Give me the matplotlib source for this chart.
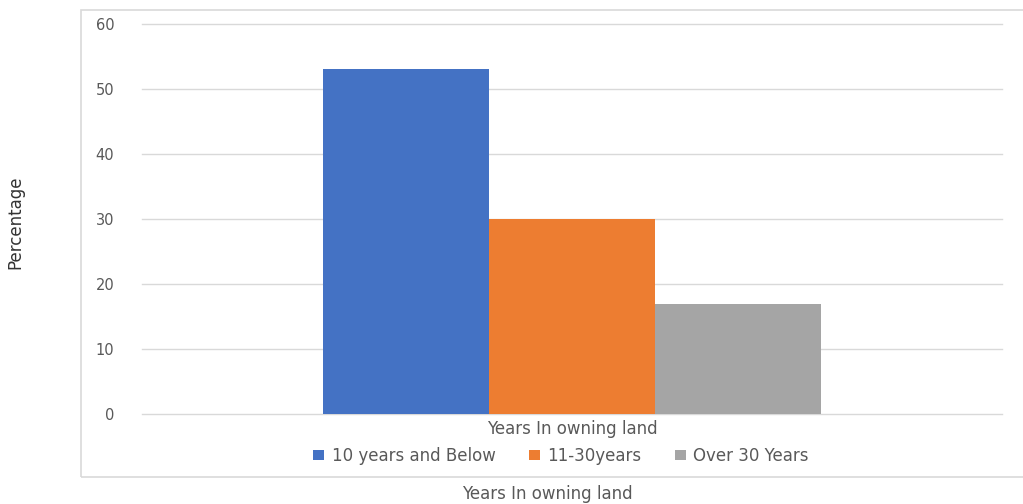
import matplotlib
matplotlib.use("Agg")
import matplotlib.pyplot as plt
from matplotlib.patches import Rectangle

# Share of respondents by length of land ownership
categories = ["10 years and Below", "11-30years", "Over 30 Years"]
percentages = [53, 30, 17]
colors = ["#4472C4", "#ED7D31", "#A5A5A5"]
y_ticks = [0, 10, 20, 30, 40, 50, 60]
group_label = "Years In owning land"

plt.rcParams["font.family"] = ["DejaVu Sans"]

W, H = 1023, 504
fig = plt.figure(figsize=(W / 100, H / 100), dpi=100)
fig.patch.set_facecolor("white")

# chart-area frame
fig.add_artist(Rectangle((81 / W, 1 - 477 / H), (1030 - 81) / W, (477 - 10) / H,
                         transform=fig.transFigure, fill=False,
                         edgecolor="#d9d9d9", lw=1.2))

ax = fig.add_axes([142 / W, 1 - 414 / H, 860 / W, 390 / H])
bar_w = 166 / 860
offsets = [-bar_w, 0, bar_w]
for off, val, col, lab in zip(offsets, percentages, colors, categories):
    ax.bar(off, val, width=bar_w, color=col, label=lab, zorder=3)

ax.set_xlim(-0.5, 0.5)
ax.set_ylim(0, 60)
ax.set_yticks(y_ticks)
ax.set_xticks([])
for t in y_ticks:
    ax.axhline(t, color="#d9d9d9", lw=1, zorder=0, clip_on=False)
for s in ax.spines.values():
    s.set_visible(False)
ax.tick_params(axis="y", length=0, pad=20, labelsize=10.5, labelcolor="#595959")

ax.set_ylabel("Percentage",
              family=["Liberation Sans Narrow", "DejaVu Sans Condensed", "DejaVu Sans"],
              fontsize=12, color="#333333")
ax.yaxis.set_label_coords((24 - 142) / 860, (414 - 222) / 390)

fig.text(572 / W, 1 - 429 / H, group_label, ha="center", va="center",
         fontsize=12, color="#595959")
fig.text(547 / W, 1 - 494 / H, group_label, ha="center", va="center",
         fontsize=12, color="#595959")

fig.legend(loc="center", bbox_to_anchor=(561 / W, 1 - 456 / H), ncol=3,
           frameon=False, fontsize=12, handlelength=0.65, handleheight=0.6,
           handletextpad=0.45, columnspacing=2.0, labelcolor="#595959")

fig.savefig("out.png", dpi=100, facecolor="white")
